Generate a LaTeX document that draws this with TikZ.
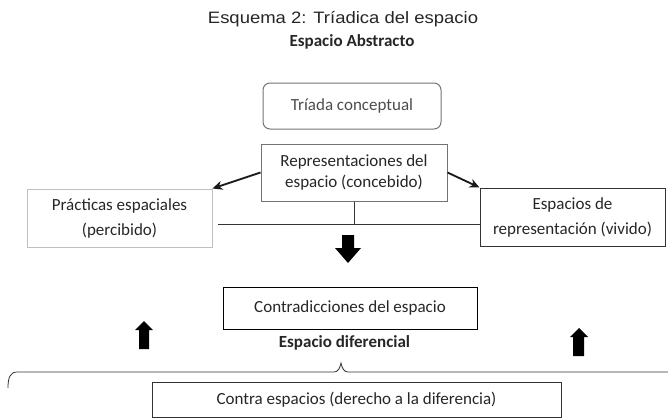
\documentclass[tikz,border=0pt]{standalone}
\usepackage{fontspec}
\setmainfont{Carlito}
\newfontfamily\titlefont[FakeStretch=1.12]{Liberation Sans}
\usetikzlibrary{arrows.meta}

\begin{document}
\begin{tikzpicture}[x=1pt,y=-1pt,
    caja/.style={draw=black!80, line width=1pt, inner sep=0pt, align=center, text=black!85,
      font=\fontsize{17}{25}\selectfont},
    flecha/.style={-{Stealth[length=10pt,width=9pt]}, line width=1.8pt, black!90},
    linea/.style={draw=black!80, line width=0.8pt}]
  \useasboundingbox (0,0) rectangle (668,418);
  % titulos
  \node[font=\titlefont\fontsize{16.5}{20}\selectfont, text=black!85] (titulo) at (343,19) {Esquema 2: Tríadica del espacio};
  \node[font=\bfseries\fontsize{17}{20}\selectfont, text=black!85] (abstracto) at (352,42) {Espacio Abstracto};
  % cajas
  \node[caja, draw=black!55, rounded corners=7pt, minimum width=178pt, minimum height=46pt, text=black!70] (triada) at (352,106) {Tríada conceptual};
  \node[caja, draw=black!55, minimum width=186pt, minimum height=57pt, font=\fontsize{17}{21}\selectfont] (rep) at (354,172.5) {Representaciones del\\espacio (concebido)};
  \node[caja, draw=black!25, minimum width=185pt, minimum height=58pt] (prac) at (119.5,218) {Prácticas espaciales\\(percibido)};
  \node[caja, minimum width=185pt, minimum height=58pt] (esp) at (572.5,217) {Espacios de\\representación (vivido)};
  \node[caja, draw=black, minimum width=254pt, minimum height=42pt] (contra) at (350,308) {Contradicciones del espacio};
  \node[font=\bfseries\fontsize{17}{20}\selectfont, text=black!85] (dif) at (344.5,343) {Espacio diferencial};
  \node[caja, minimum width=409pt, minimum height=35pt] (derecho) at (356.5,399.5) {Contra espacios (derecho a la diferencia)};
  % conectores
  \draw[flecha] (rep.west) -- (prac.north east);
  \draw[flecha] (rep.east) -- (esp.north west);
  \coordinate (cruce) at (rep.south |- 0,224);
  \coordinate (lineaizq) at (218,224);
  \draw[linea] (rep.south) -- (cruce);
  \draw[linea] (lineaizq) -- (esp.west |- cruce);
  % flechas gruesas
  \fill (342,235) -- (354,235) -- (354,248) -- (361,248) -- (348,263) -- (335,248) -- (342,248) -- cycle;
  \fill (139,349) -- (149,349) -- (149,330) -- (153,330) -- (144,321) -- (135,330) -- (139,330) -- cycle;
  \fill (573,356) -- (584,356) -- (584,337) -- (588,337) -- (579,328) -- (570,337) -- (573,337) -- cycle;
  % llave
  \draw[linea] (8,388) .. controls (8,378) and (10,372) .. (17,372) -- (334,372)
    .. controls (338,372) and (340,368) .. (341,363) .. controls (342,368) and (344,372) .. (348,372) -- (668,372);
\end{tikzpicture}
\end{document}
